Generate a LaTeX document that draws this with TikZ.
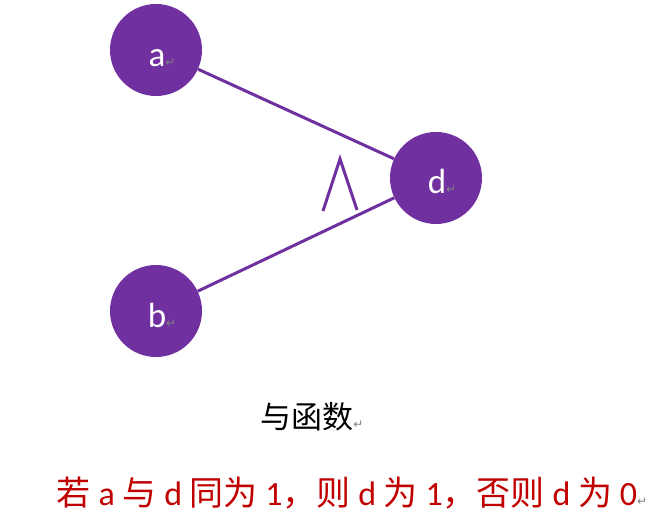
\documentclass[tikz,border=0pt]{standalone}
\usepackage{fontspec}
\setmainfont{Carlito}
\newfontfamily\cjk{Noto Sans CJK SC}
\newfontfamily\sym{DejaVu Sans}
\definecolor{ofpurple}{HTML}{7030A0}
\definecolor{ofred}{HTML}{C00000}
\newcommand{\pmark}{{\sym\fontsize{12}{12}\selectfont\color{gray}↵}}
\begin{document}
\begin{tikzpicture}[x=1pt,y=-1pt,
  circ/.style={circle,fill=ofpurple,minimum size=92pt,inner sep=0pt},
  lbl/.style={text=white,font=\fontsize{35}{35}\selectfont},
  link/.style={draw=ofpurple,line width=3pt}]
\useasboundingbox (0,0) rectangle (659,518);
\node[circ] (a) at (156,50) {};
\node[circ] (d) at (436,178) {};
\node[circ] (b) at (156,311) {};
\node[lbl,anchor=base] (ta) at (162,67) {a\pmark};
\node[lbl,anchor=base] (td) at (442,194) {d\pmark};
\node[lbl,anchor=base] (tb) at (162,328) {b\pmark};
\draw[link] (a) -- (d);
\draw[link] (b) -- (d);
\coordinate (wl) at (323,211);
\coordinate (wt) at (340,159);
\coordinate (wr) at (357,210);
\draw[draw=ofpurple,line width=3pt] (wl) -- (wt) -- (wr);
\node[anchor=base] (fn) at (312,429) {\cjk\fontsize{31}{31}\selectfont 与函数\pmark};
\node[anchor=base,text=ofred] (rule) at (352,505) {\fontsize{34}{34}\selectfont{\cjk 若} a {\cjk 与} d {\cjk 同为} 1{\cjk ，则} d {\cjk 为} 1{\cjk ，否则} d {\cjk 为} 0\pmark};
\end{tikzpicture}
\end{document}
